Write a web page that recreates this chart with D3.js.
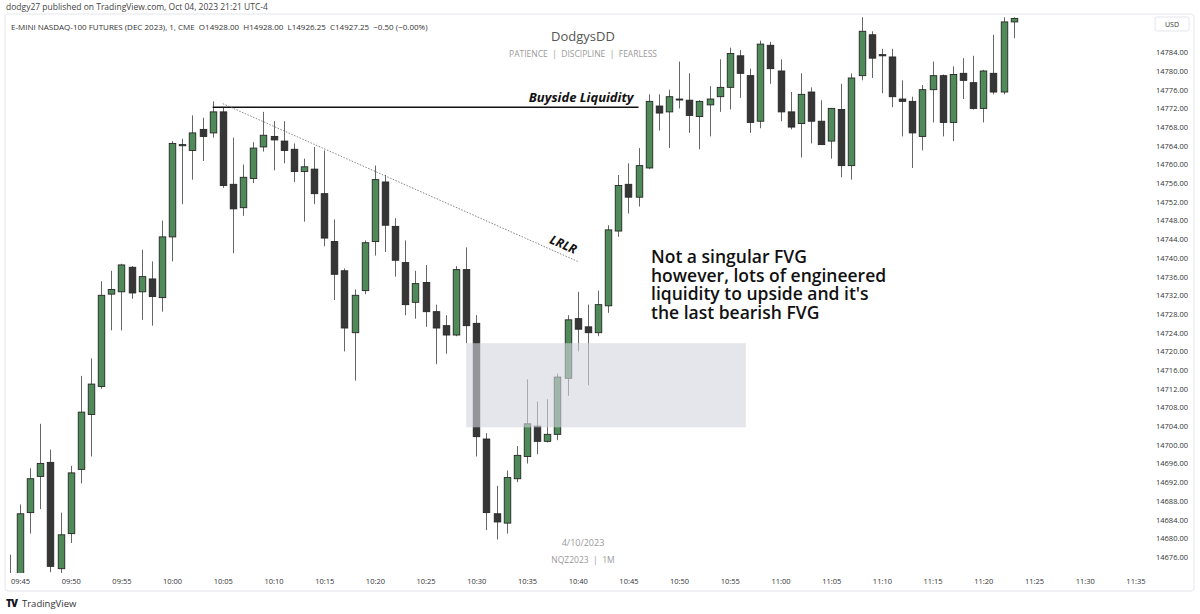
<!DOCTYPE html>
<html>
<head>
<meta charset="utf-8">
<script src="https://cdn.jsdelivr.net/npm/d3@7"></script>
<style>
  body { margin: 0; background: #fff; }
  svg { display: block; }
  text { font-family: "Open Sans", "Noto Sans", sans-serif; }
</style>
</head>
<body>
<div id="chart"></div>
<script>
// one minute candles, NQZ2023, 4 Oct 2023
var times = ["09:44","09:45","09:46","09:47","09:48","09:49","09:50","09:51","09:52","09:53","09:54",
  "09:55","09:56","09:57","09:58","09:59","10:00","10:01","10:02","10:03","10:04",
  "10:05","10:06","10:07","10:08","10:09","10:10","10:11","10:12","10:13","10:14",
  "10:15","10:16","10:17","10:18","10:19","10:20","10:21","10:22","10:23","10:24",
  "10:25","10:26","10:27","10:28","10:29","10:30","10:31","10:32","10:33","10:34",
  "10:35","10:36","10:37","10:38","10:39","10:40","10:41","10:42","10:43","10:44",
  "10:45","10:46","10:47","10:48","10:49","10:50","10:51","10:52","10:53","10:54",
  "10:55","10:56","10:57","10:58","10:59","11:00","11:01","11:02","11:03","11:04",
  "11:05","11:06","11:07","11:08","11:09","11:10","11:11","11:12","11:13","11:14",
  "11:15","11:16","11:17","11:18","11:19","11:20","11:21","11:22","11:23"];
var opens = [14670.00,14671.50,14685.50,14693.25,14696.25,14673.50,14681.00,14694.75,14706.50,14712.50,14732.25,
  14732.75,14738.00,14732.75,14735.50,14731.50,14744.50,14764.00,14763.00,14767.50,14766.75,
  14771.25,14755.75,14750.75,14757.00,14763.75,14766.00,14765.00,14763.25,14758.50,14759.00,
  14753.75,14743.50,14737.25,14724.00,14733.00,14743.50,14756.25,14746.75,14739.00,14730.50,
  14734.75,14728.50,14725.50,14723.50,14737.50,14726.00,14701.25,14685.25,14683.25,14692.75,
  14697.50,14704.00,14700.75,14702.25,14714.25,14727.00,14725.25,14724.00,14729.75,14745.75,
  14755.75,14753.00,14759.25,14772.50,14771.25,14774.00,14773.75,14770.25,14772.75,14774.50,
  14776.50,14783.25,14779.00,14769.25,14785.50,14780.00,14771.25,14768.75,14775.50,14769.25,
  14765.00,14771.75,14759.75,14779.00,14787.75,14783.50,14783.00,14774.00,14773.50,14766.00,
  14776.00,14779.00,14769.00,14779.50,14777.50,14772.00,14779.50,14775.50,14790.50];
var highs = [14676.50,14687.25,14695.00,14704.50,14699.00,14685.50,14695.50,14714.75,14718.50,14735.00,14737.25,
  14738.75,14738.25,14741.75,14739.25,14748.00,14765.00,14765.50,14770.50,14770.00,14773.50,
  14772.25,14765.75,14760.00,14764.75,14771.25,14769.25,14769.25,14764.50,14761.25,14763.75,
  14763.00,14748.25,14737.75,14733.25,14743.75,14759.75,14757.75,14748.50,14743.75,14737.25,
  14738.50,14730.00,14727.75,14738.25,14742.25,14727.75,14702.50,14691.25,14694.50,14699.75,
  14714.00,14709.25,14709.75,14715.25,14727.75,14732.75,14730.00,14733.00,14747.00,14757.75,
  14760.25,14763.50,14775.00,14775.00,14776.00,14782.00,14779.50,14773.75,14776.75,14782.50,
  14785.00,14784.50,14780.50,14786.50,14786.25,14782.50,14775.50,14779.50,14776.50,14773.75,
  14772.00,14777.25,14779.50,14791.50,14788.50,14784.75,14784.75,14778.00,14774.50,14777.00,
  14782.00,14779.25,14781.00,14782.75,14783.25,14780.25,14787.75,14791.50,14791.50];
var lows = [14668.00,14669.00,14681.00,14686.25,14672.75,14672.50,14679.00,14691.75,14697.50,14712.00,14724.50,
  14724.50,14731.25,14726.75,14725.50,14728.50,14739.25,14751.50,14756.75,14760.75,14765.75,
  14755.00,14741.00,14749.00,14756.00,14762.75,14758.75,14760.25,14756.25,14747.75,14751.50,
  14742.50,14731.00,14720.00,14713.75,14732.25,14740.50,14741.25,14736.00,14727.75,14727.00,
  14725.25,14717.25,14719.50,14723.25,14721.75,14697.50,14681.75,14679.75,14681.00,14692.00,
  14696.00,14698.00,14700.50,14701.00,14710.50,14720.00,14712.75,14723.25,14728.25,14744.50,
  14749.50,14751.00,14759.00,14767.25,14763.50,14772.00,14766.75,14763.25,14766.00,14771.25,
  14771.75,14774.25,14766.75,14767.75,14777.25,14769.25,14767.50,14761.50,14764.50,14764.25,
  14761.25,14757.25,14756.75,14778.00,14778.50,14775.25,14772.25,14766.00,14759.25,14763.00,
  14769.00,14766.00,14765.00,14774.00,14771.75,14769.00,14775.00,14775.00,14787.00];
var closes = [14671.50,14685.25,14692.75,14696.00,14674.00,14680.75,14694.00,14707.00,14713.00,14732.00,14733.25,
  14738.50,14732.50,14736.00,14731.75,14744.50,14764.50,14764.25,14766.75,14766.00,14771.25,
  14755.50,14750.50,14757.25,14763.50,14766.25,14765.25,14763.00,14758.50,14759.50,14753.75,
  14744.25,14736.50,14725.00,14732.00,14743.25,14756.75,14747.00,14739.50,14730.00,14734.50,
  14728.50,14725.00,14723.50,14737.50,14725.50,14701.75,14685.50,14683.50,14693.00,14697.75,
  14704.50,14700.75,14702.25,14714.50,14726.75,14724.75,14724.00,14730.00,14746.00,14755.50,
  14753.00,14759.75,14773.50,14771.00,14774.50,14774.00,14770.50,14773.50,14774.00,14776.50,
  14783.75,14779.50,14769.00,14785.75,14780.50,14771.25,14768.00,14775.00,14769.25,14764.25,
  14772.00,14759.75,14778.50,14788.50,14782.75,14783.25,14774.50,14773.50,14766.75,14776.00,
  14779.00,14769.00,14779.25,14778.00,14772.00,14780.00,14775.50,14790.50,14791.25];

var priceTicks = [14784,14780,14776,14772,14768,14764,14760,14756,14752,14748,14744,14740,14736,
  14732,14728,14724,14720,14716,14712,14708,14704,14700,14696,14692,14688,14684,14680,14676];
var timeTicks = ["09:45","09:50","09:55","10:00","10:05","10:10","10:15","10:20","10:25","10:30",
  "10:35","10:40","10:45","10:50","10:55","11:00","11:05","11:10","11:15","11:20","11:25","11:30","11:35"];

// drawings
var buysideTimes = ["10:04","10:46"];
var buysidePrice = 14772.25;
var trendTimes = ["10:05","10:40"];
var trendPrices = [14773.00, 14739.25];
var fvgTimes = ["10:29","10:56:35"];
var fvgPrices = [14721.75, 14703.75];
var noteLines = ["Not a singular FVG", "however, lots of engineered", "liquidity to upside and it's", "the last bearish FVG"];

var width = 1200, height = 614;
var pane = {left: 6, right: 1150, top: 15, bottom: 573};

var parseT = function(s) {
  return d3.timeParse("%H:%M:%S")(s.length == 5 ? s + ":00" : s);
};

var svg = d3.select("#chart").append("svg")
  .attr("width", width)
  .attr("height", height);

var x = d3.scaleTime()
  .domain([parseT("09:45"), parseT("11:35")])
  .range([20, 1135.4]);

var y = d3.scaleLinear()
  .domain([14676, 14784])
  .range([557, 52.3]);

// frame
svg.append("rect")
  .attr("x", 5).attr("y", 14)
  .attr("width", 1189).attr("height", 577)
  .attr("rx", 3)
  .attr("fill", "none")
  .attr("stroke", "#e4e6ec");

svg.append("text")
  .attr("x", 6).attr("y", 10)
  .attr("font-size", "8.5px")
  .attr("fill", "#444")
  .text("dodgy27 published on TradingView.com, Oct 04, 2023 21:21 UTC-4");

svg.append("text")
  .attr("x", 11).attr("y", 30)
  .attr("font-size", "8px")
  .attr("fill", "#333")
  .attr("xml:space", "preserve")
  .text("E-MINI NASDAQ-100 FUTURES (DEC 2023), 1, CME  O14928.00  H14928.00  L14926.25  C14927.25  \u22120.50 (\u22120.00%)");

// watermark
svg.append("text")
  .attr("x", 583).attr("y", 41)
  .attr("text-anchor", "middle")
  .attr("font-size", "13px")
  .attr("fill", "#555")
  .text("DodgysDD");

svg.append("text")
  .attr("x", 583).attr("y", 56.5)
  .attr("text-anchor", "middle")
  .attr("font-size", "8.5px")
  .attr("fill", "#9a9a9a")
  .attr("xml:space", "preserve")
  .text("PATIENCE  |  DISCIPLINE  |  FEARLESS");

svg.append("text")
  .attr("x", 583).attr("y", 546)
  .attr("text-anchor", "middle")
  .attr("font-size", "9px")
  .attr("fill", "#9a9a9a")
  .text("4/10/2023");

svg.append("text")
  .attr("x", 583).attr("y", 563)
  .attr("text-anchor", "middle")
  .attr("font-size", "8.5px")
  .attr("fill", "#9a9a9a")
  .attr("xml:space", "preserve")
  .text("NQZ2023  |  1M");

// candles
svg.append("clipPath").attr("id", "pane")
  .append("rect")
  .attr("x", pane.left).attr("y", pane.top)
  .attr("width", pane.right - pane.left)
  .attr("height", pane.bottom - pane.top);

var candles = times.map(function(t, i) {
  return {t: parseT(t), o: opens[i], h: highs[i], l: lows[i], c: closes[i]};
});

var g = svg.append("g").attr("clip-path", "url(#pane)");
var bw = 6.5;

var candle = g.selectAll("g.candle")
  .data(candles)
  .enter().append("g")
  .attr("class", "candle");

candle.append("line")
  .attr("x1", function(d) { return Math.round(x(d.t)) + 0.5; })
  .attr("x2", function(d) { return Math.round(x(d.t)) + 0.5; })
  .attr("y1", function(d) { return y(d.h); })
  .attr("y2", function(d) { return y(d.l); })
  .attr("stroke", "#666")
  .attr("stroke-width", 1);

candle.append("rect")
  .attr("x", function(d) { return Math.round(x(d.t)) + 0.5 - bw / 2; })
  .attr("y", function(d) { return y(Math.max(d.o, d.c)); })
  .attr("width", bw)
  .attr("height", function(d) { return Math.max(1, Math.abs(y(d.o) - y(d.c))); })
  .attr("fill", function(d) { return d.c >= d.o ? "#4f8b59" : "#363636"; })
  .attr("stroke", "#262626")
  .attr("stroke-width", 0.9);

// FVG zone, over the candles
svg.append("rect")
  .attr("x", x(parseT(fvgTimes[0])))
  .attr("y", y(fvgPrices[0]))
  .attr("width", x(parseT(fvgTimes[1])) - x(parseT(fvgTimes[0])))
  .attr("height", y(fvgPrices[1]) - y(fvgPrices[0]))
  .attr("fill", "#d4d6dd")
  .attr("opacity", 0.6);

// buyside liquidity
svg.append("line")
  .attr("x1", x(parseT(buysideTimes[0])))
  .attr("x2", x(parseT(buysideTimes[1])))
  .attr("y1", y(buysidePrice))
  .attr("y2", y(buysidePrice))
  .attr("stroke", "#111")
  .attr("stroke-width", 1.6);

svg.append("text")
  .attr("x", x(parseT(buysideTimes[1])) - 5)
  .attr("y", y(buysidePrice) - 5)
  .attr("text-anchor", "end")
  .attr("font-size", "13px")
  .attr("font-weight", "bold")
  .attr("font-style", "italic")
  .attr("fill", "#111")
  .text("Buyside Liquidity");

// trend line + LRLR
var tx0 = x(parseT(trendTimes[0])), ty0 = y(trendPrices[0]),
    tx1 = x(parseT(trendTimes[1])), ty1 = y(trendPrices[1]);
svg.append("line")
  .attr("x1", tx0).attr("y1", ty0)
  .attr("x2", tx1).attr("y2", ty1)
  .attr("stroke", "#666")
  .attr("stroke-width", 0.8)
  .attr("stroke-dasharray", "1.5,1.5");

var ang = Math.atan2(ty1 - ty0, tx1 - tx0) * 180 / Math.PI;
svg.append("text")
  .attr("transform", "translate(" + (tx1 - 16) + "," + (ty1 - 13) + ") rotate(" + ang + ")")
  .attr("text-anchor", "middle")
  .attr("font-size", "12.5px")
  .attr("font-weight", "bold")
  .attr("font-style", "italic")
  .attr("fill", "#111")
  .text("LRLR");

// note (tight leading as in the original)
svg.append("g").selectAll("text")
  .data(noteLines)
  .enter().append("text")
  .attr("x", 651)
  .attr("y", function(d, i) { return 263 + i * 18.7; })
  .attr("font-size", "17.5px")
  .attr("font-weight", 600)
  .attr("fill", "#111")
  .text(function(d) { return d; });

// price axis
var yAxis = svg.append("g")
  .attr("transform", "translate(1188,0)")
  .call(d3.axisLeft(y).tickValues(priceTicks).tickSize(0).tickPadding(0).tickFormat(d3.format(".2f")));
yAxis.select(".domain").remove();
yAxis.selectAll("text")
  .attr("font-family", "\"Open Sans\", sans-serif")
  .attr("font-size", "7.5px")
  .attr("fill", "#333");

svg.append("rect")
  .attr("x", 1155).attr("y", 17)
  .attr("width", 34).attr("height", 14)
  .attr("rx", 2)
  .attr("fill", "#fff")
  .attr("stroke", "#e4e6ec");
svg.append("text")
  .attr("x", 1172).attr("y", 27)
  .attr("text-anchor", "middle")
  .attr("font-size", "7px")
  .attr("fill", "#333")
  .text("USD");

// time axis
var xAxis = svg.append("g")
  .attr("transform", "translate(0,576)")
  .call(d3.axisBottom(x).tickValues(timeTicks.map(parseT)).tickSize(0).tickPadding(3).tickFormat(d3.timeFormat("%H:%M")));
xAxis.select(".domain").remove();
xAxis.selectAll("text")
  .attr("font-family", "\"Open Sans\", sans-serif")
  .attr("font-size", "7.5px")
  .attr("fill", "#333");

// footer
svg.append("text")
  .attr("x", 6).attr("y", 607)
  .attr("font-size", "10px")
  .attr("font-weight", 900)
  .attr("fill", "#131722")
  .attr("letter-spacing", "-1px")
  .text("TV");
svg.append("text")
  .attr("x", 22).attr("y", 607)
  .attr("font-size", "9.5px")
  .attr("fill", "#333")
  .text("TradingView");
</script>
</body>
</html>
